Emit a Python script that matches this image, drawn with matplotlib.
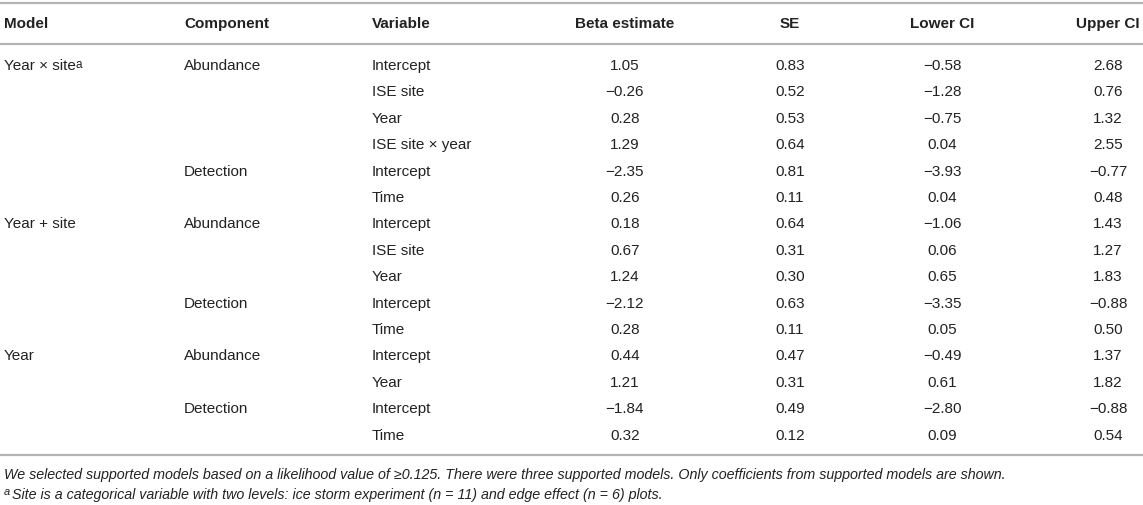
import matplotlib
matplotlib.use("Agg")
import matplotlib.pyplot as plt

plt.rcParams['font.family'] = ['Liberation Sans', 'DejaVu Sans']

# ---- data ----
headers = ["Model", "Component", "Variable", "Beta estimate", "SE", "Lower CI", "Upper CI"]
models = ["Year × site", "", "", "", "", "",
          "Year + site", "", "", "", "",
          "Year", "", "", ""]
model_sup = ["a", "", "", "", "", "", "", "", "", "", "", "", "", "", ""]
components = ["Abundance", "", "", "", "Detection", "",
              "Abundance", "", "", "Detection", "",
              "Abundance", "", "Detection", ""]
variables = ["Intercept", "ISE site", "Year", "ISE site × year", "Intercept", "Time",
             "Intercept", "ISE site", "Year", "Intercept", "Time",
             "Intercept", "Year", "Intercept", "Time"]
beta = [1.05, -0.26, 0.28, 1.29, -2.35, 0.26,
        0.18, 0.67, 1.24, -2.12, 0.28,
        0.44, 1.21, -1.84, 0.32]
se = [0.83, 0.52, 0.53, 0.64, 0.81, 0.11,
      0.64, 0.31, 0.30, 0.63, 0.11,
      0.47, 0.31, 0.49, 0.12]
lower = [-0.58, -1.28, -0.75, 0.04, -3.93, 0.04,
         -1.06, 0.06, 0.65, -3.35, 0.05,
         -0.49, 0.61, -2.80, 0.09]
upper = [2.68, 0.76, 1.32, 2.55, -0.77, 0.48,
         1.43, 1.27, 1.83, -0.88, 0.50,
         1.37, 1.82, -0.88, 0.54]
footnote1 = ("We selected supported models based on a likelihood value of \u22650.125. "
             "There were three supported models. Only coefficients from supported models are shown.")
footnote2_sup = "a"
footnote2 = ("Site is a categorical variable with two levels: ice storm experiment (n = 11) "
             "and edge effect (n = 6) plots.")

# ---- layout ----
W, H = 1143, 505
fig = plt.figure(figsize=(W / 100, H / 100), dpi=100)
ax = fig.add_axes([0, 0, 1, 1])
ax.set_xlim(0, W)
ax.set_ylim(H, 0)
ax.axis('off')

txt = '#222222'
line_c = '#b4b4b4'
fs = 11

col_x = [4, 184, 372, 625, 790, 942, 1108]
col_ha = ['left', 'left', 'left', 'center', 'center', 'center', 'center']

# rules
for y in (3, 43.5, 455):
    ax.plot([0, W], [y, y], color=line_c, lw=1.6, solid_capstyle='butt')

# header
for h, x, ha in zip(headers, col_x, col_ha):
    ax.text(x, 24, h, ha=ha, va='center', fontsize=fs, fontweight='bold', color=txt)

def fmt(v):
    return f"{v:.2f}".replace('-', '\u2212')

y0, dy = 66, 26.4
for i in range(len(variables)):
    y = y0 + i * dy
    if models[i]:
        t = ax.text(col_x[0], y, models[i], ha='left', va='center', fontsize=fs, color=txt)
        if model_sup[i]:
            ax.annotate(model_sup[i], xy=(1.0, 1.0), xycoords=t, ha='left', va='top',
                        fontsize=8.5, color=txt)
    if components[i]:
        ax.text(col_x[1], y, components[i], ha='left', va='center', fontsize=fs, color=txt)
    ax.text(col_x[2], y, variables[i], ha='left', va='center', fontsize=fs, color=txt)
    for j, arr in enumerate((beta, se, lower, upper)):
        ax.text(col_x[3 + j], y, fmt(arr[i]), ha='center', va='center', fontsize=fs, color=txt)

# footnotes
ax.text(4, 475, footnote1, ha='left', va='center', fontsize=10.3, style='italic', color=txt)
ax.text(4, 492, footnote2_sup, ha='left', va='center', fontsize=8, style='italic', color=txt)
ax.text(11.5, 495.5, footnote2, ha='left', va='center', fontsize=10.3, style='italic', color=txt)

fig.savefig('out.png', dpi=100)
